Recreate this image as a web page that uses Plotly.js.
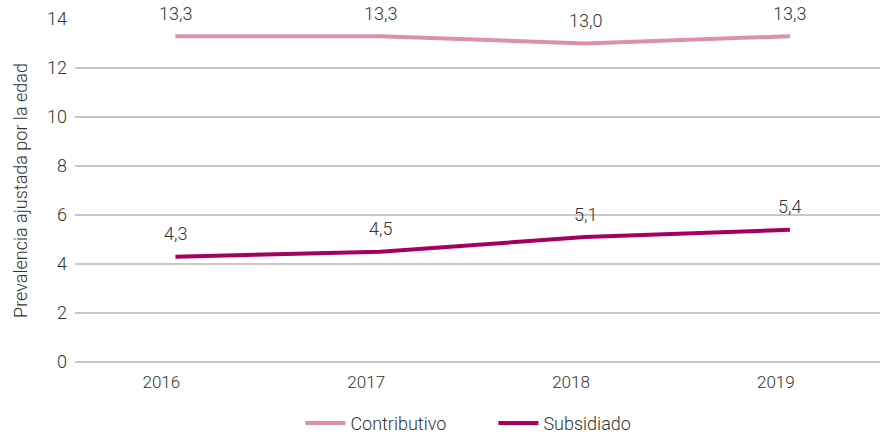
<!DOCTYPE html>
<html><head><meta charset="utf-8">
<script src="https://cdn.plot.ly/plotly-3.0.1.min.js"></script>
<style>html,body{margin:0;padding:0;background:#fff}#chart{width:887px;height:435px}</style>
</head><body><div id="chart"></div>
<script>
const years = ['2016', '2017', '2018', '2019'];
const contributivo = [13.3, 13.3, 13.0, 13.3];
const subsidiado = [4.3, 4.5, 5.1, 5.4];
const yTicks = [0, 2, 4, 6, 8, 10, 12, 14];

const fmt = v => v.toFixed(1).replace('.', ',');
const FONT = '"Liberation Sans Narrow", "Roboto", sans-serif';
const TXT = '#333';

const traces = [
  {x: years, y: contributivo, name: 'Contributivo', type: 'scatter', mode: 'lines',
   cliponaxis: false, line: {color: '#de8fb0', width: 4}},
  {x: years, y: subsidiado, name: 'Subsidiado', type: 'scatter', mode: 'lines',
   cliponaxis: false, line: {color: '#a5005d', width: 4}}
];

const annotations = [];
[contributivo, subsidiado].forEach(series => {
  series.forEach((v, i) => annotations.push({
    x: i, y: v, xref: 'x', yref: 'y', text: fmt(v), showarrow: false,
    yshift: 23, font: {family: FONT, size: 18, color: TXT, weight: 300}
  }));
});

const layout = {
  width: 887, height: 435,
  margin: {l: 75, r: 7, t: 19, b: 73, autoexpand: false},
  paper_bgcolor: '#fff', plot_bgcolor: '#fff',
  font: {family: FONT, size: 16, color: TXT, weight: 300},
  showlegend: true,
  legend: {orientation: 'h', x: 0.28, xanchor: 'left', y: -0.125, yanchor: 'top',
           font: {family: FONT, size: 18, color: TXT, weight: 300}, itemwidth: 40,
           entrywidth: 138, entrywidthmode: 'pixels', tracegroupgap: 0},
  annotations: annotations,
  xaxis: {type: 'category', range: [-0.49, 3.44], showgrid: false, zeroline: false,
          showline: false, ticks: '', ticklabelstandoff: 8, ticklabelshift: -14,
          tickfont: {family: FONT, size: 17, color: TXT, weight: 300}},
  yaxis: {range: [0, 14], tickvals: yTicks, ticktext: yTicks.map(String),
          showgrid: true, gridcolor: '#c8c8c8', gridwidth: 1.5,
          zeroline: true, zerolinecolor: '#c8c8c8', zerolinewidth: 1.5,
          showline: false, ticks: '', ticklabelstandoff: 7,
          tickfont: {family: FONT, size: 18, color: TXT, weight: 300},
          title: {text: 'Prevalencia ajustada por la edad', standoff: 14,
                  font: {family: FONT, size: 18, color: TXT, weight: 300}}}
};

Plotly.newPlot('chart', traces, layout, {displayModeBar: false, staticPlot: true});
</script></body></html>
